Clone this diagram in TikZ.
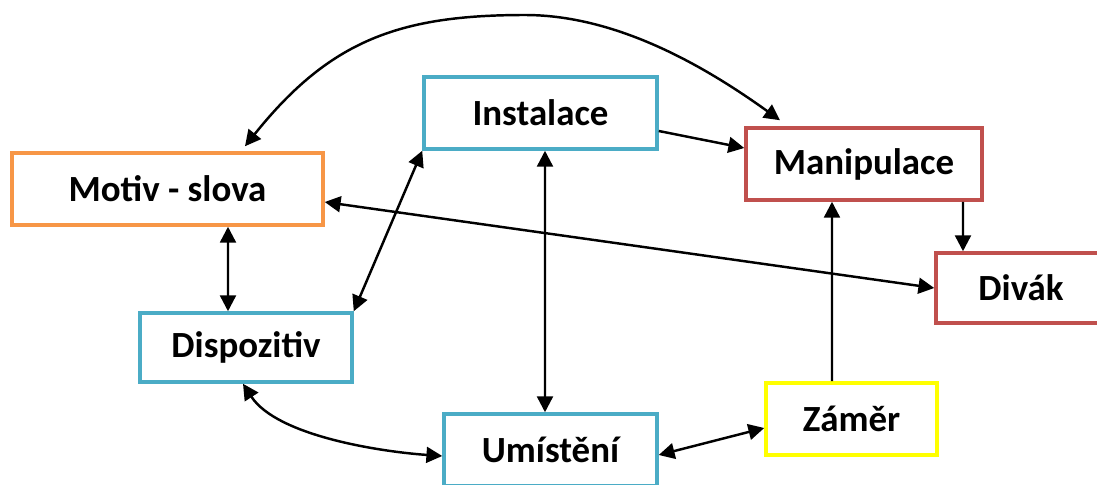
\documentclass[tikz,border=0pt]{standalone}
\usepackage{fontspec}
\setmainfont{Carlito}
\usetikzlibrary{arrows.meta,calc}

\definecolor{orangeline}{HTML}{F79646}
\definecolor{blueline}{HTML}{4BACC6}
\definecolor{redline}{HTML}{C0504D}
\definecolor{yellowline}{HTML}{FFFF00}

\begin{document}
\begin{tikzpicture}[scale=0.2,
                >={Triangle[length=9pt,width=9pt]},
                box/.style={draw, line width=2pt, fill=white, minimum height=1.44cm,
                            font=\fontsize{21}{25}\selectfont\bfseries},
                link/.style={line width=1.4pt}]
                \useasboundingbox (0,0) rectangle (109.7,-48.4);
                % boxes
                \node [box, draw=orangeline, minimum width=6.22cm] (motiv) at (16.75,-18.9) {Motiv - slova};
                \node [box, draw=blueline, minimum width=4.66cm] (instalace) at (54.05,-11.3) {Instalace};
                \node [box, draw=redline, minimum width=4.72cm] (manipulace) at (86.4,-16.4) {Manipulace};
                \node [box, draw=redline, minimum width=3.4cm, minimum height=1.4cm] (divak) at (102.1,-28.8) {Divák};
                \node [box, draw=blueline, minimum width=4.24cm, minimum height=1.38cm] (dispozitiv) at (24.6,-34.75) {Dispozitiv};
                \node [box, draw=blueline, minimum width=4.26cm] (umisteni) at (55.05,-45.0) {Umístění};
                \node [box, draw=yellowline, minimum width=3.42cm] (zamer) at (85.15,-41.9) {Záměr};
                % arc over the top
                \coordinate (arctop) at (52.5,-1.5);
                \draw [link, <->] ($(motiv.north)+(7.75,0.5)$) .. controls (33,-4) and (40,-1.5) .. (arctop)
                      .. controls (62,-1.5) and (71,-7) .. ($(manipulace.north)+(-8.4,0.6)$);
                % straight links
                \draw [link, ->] ($(instalace.east)+(0,-1.8)$) -- ($(manipulace.west)+(0,1.6)$);
                \draw [link, <->] ($(motiv.east)+(0,-1.3)$) -- (divak.west);
                \draw [link, <->] ($(motiv.south)+(6.05,0)$) -- ($(dispozitiv.north)+(-1.8,0)$);
                \draw [link, <->] (dispozitiv.north east) -- (instalace.south west);
                \draw [link, <->] ($(instalace.south)+(0.45,0)$) -- ($(umisteni.north)+(-0.55,0)$);
                \draw [link, ->] ($(manipulace.south)+(9.9,0)$) -- ($(divak.north)+(-5.8,0)$);
                \draw [link, ->] ($(zamer.north)+(-1.95,0)$) -- ($(manipulace.south)+(-3.2,0)$);
                \draw [link, <->] ($(umisteni.east)+(0,-0.5)$) -- ($(zamer.west)+(0,-0.9)$);
                % curved link at the bottom
                \draw [link, <->] ($(dispozitiv.south)+(-0.3,0)$) to[out=-57,in=176,looseness=0.75] ($(umisteni.west)+(0,-0.6)$);
            \end{tikzpicture}
\end{document}
